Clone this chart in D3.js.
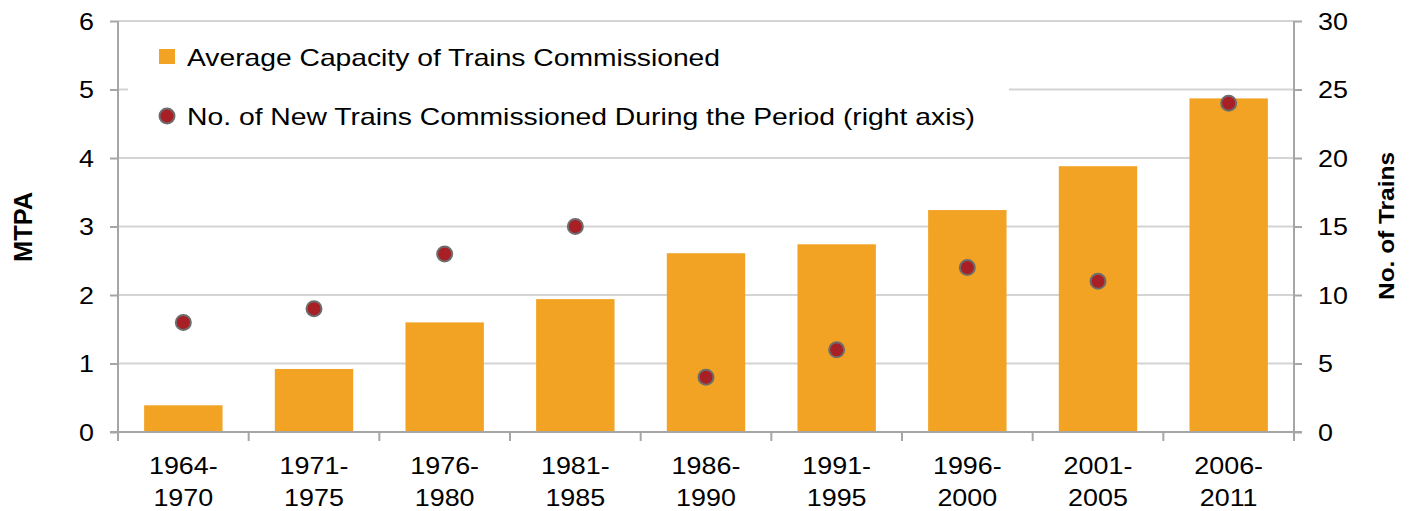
<!DOCTYPE html>
<html>
<head>
<meta charset="utf-8">
<script src="https://cdn.jsdelivr.net/npm/d3@7"></script>
<style>
  html, body { margin: 0; padding: 0; background: #fff; }
  svg { display: block; font-family: "Liberation Sans", Arial, sans-serif; }
</style>
</head>
<body>
<svg id="chart" width="1410" height="511"></svg>
<script>
const periods = [["1964-","1970"],["1971-","1975"],["1976-","1980"],["1981-","1985"],["1986-","1990"],["1991-","1995"],["1996-","2000"],["2001-","2005"],["2006-","2011"]];
const avgCapacity = [0.39, 0.92, 1.60, 1.94, 2.61, 2.74, 3.24, 3.88, 4.87];
const newTrains = [8, 9, 13, 15, 4, 6, 12, 11, 24];
const leftTicks = [0, 1, 2, 3, 4, 5, 6];
const rightTicks = [0, 5, 10, 15, 20, 25, 30];
const legendLabels = ["Average Capacity of Trains Commissioned", "No. of New Trains  Commissioned During the Period (right axis)"];

(function () {
const svg = d3.select("#chart");
const pLeft = 118, pRight = 1294, pTop = 21, pBottom = 432;
const keys = periods.map(p => p.join(""));
const x = d3.scaleBand().domain(keys).range([pLeft, pRight]).paddingInner(0.4).paddingOuter(0.2);
const xb = d3.scaleBand().domain(keys).range([pLeft, pRight]);
const yL = d3.scaleLinear().domain([0, 6]).range([pBottom, pTop]);
const yR = d3.scaleLinear().domain([0, 30]).range([pBottom, pTop]);

const axisCol = "#a6a6a6", gridCol = "#d4d4d4", barCol = "#F2A324", dotCol = "#A81F25";

function stretch(sel, f) {
  sel.each(function () {
    const w = this.getComputedTextLength();
    d3.select(this).attr("textLength", w * f).attr("lengthAdjust", "spacingAndGlyphs");
  });
}

// gridlines
svg.append("g").selectAll("line").data(leftTicks.filter(d => d > 0)).join("line")
  .attr("x1", pLeft).attr("x2", pRight)
  .attr("y1", d => yL(d)).attr("y2", d => yL(d))
  .attr("stroke", gridCol).attr("stroke-width", 2);

// legend background hiding gridline
svg.append("rect").attr("x", 128).attr("y", 30).attr("width", 881).attr("height", 115).attr("fill", "#fff");

// bars
svg.append("g").selectAll("rect").data(avgCapacity).join("rect")
  .attr("x", (d, i) => x(keys[i])).attr("width", x.bandwidth())
  .attr("y", d => yL(d)).attr("height", d => yL(0) - yL(d))
  .attr("fill", barCol);

// axes
const axL = d3.axisLeft(yL).tickValues(leftTicks).tickFormat(d3.format("d")).tickSize(8).tickPadding(16);
const gL = svg.append("g").attr("transform", `translate(${pLeft},0)`).call(axL);
const axR = d3.axisRight(yR).tickValues(rightTicks).tickFormat(d3.format("d")).tickSize(8).tickPadding(16);
const gR = svg.append("g").attr("transform", `translate(${pRight},0)`).call(axR);
[gL, gR].forEach(g => {
  g.attr("font-size", null).attr("font-family", null);
  g.select(".domain").attr("stroke", axisCol).attr("stroke-width", 2).attr("d", `M0,${pTop}V${pBottom}`);
  g.selectAll(".tick line").attr("stroke", axisCol).attr("stroke-width", 2);
  g.selectAll(".tick text").style("font-size", "24px").attr("fill", "#000").attr("dy", "0.34em");
  stretch(g.selectAll(".tick text"), 1.12);
});

// bottom axis
const gB = svg.append("g");
gB.append("line").attr("x1", pLeft - 8).attr("x2", pRight + 8).attr("y1", pBottom).attr("y2", pBottom)
  .attr("stroke", axisCol).attr("stroke-width", 2);
const bounds = keys.map(k => xb(k)).concat([pRight]);
gB.selectAll(".bt").data(bounds).join("line").attr("class", "bt")
  .attr("x1", d => d).attr("x2", d => d).attr("y1", pBottom).attr("y2", pBottom + 9)
  .attr("stroke", axisCol).attr("stroke-width", 2);
const lab = gB.selectAll(".lab").data(periods).join("g").attr("class", "lab");
lab.append("text").attr("x", (d, i) => x(keys[i]) + x.bandwidth() / 2).attr("y", 474)
  .attr("text-anchor", "middle").style("font-size", "24px").text(d => d[0]);
lab.append("text").attr("x", (d, i) => x(keys[i]) + x.bandwidth() / 2).attr("y", 506)
  .attr("text-anchor", "middle").style("font-size", "24px").text(d => d[1]);
stretch(lab.selectAll("text"), 1.12);

// points
svg.append("g").selectAll("circle").data(newTrains).join("circle")
  .attr("cx", (d, i) => x(keys[i]) + x.bandwidth() / 2).attr("cy", d => yR(d)).attr("r", 7.5)
  .attr("fill", dotCol).attr("stroke", "#6d6d6d").attr("stroke-width", 2);

// axis titles
svg.append("text").attr("transform", "translate(32,227) rotate(-90)").attr("text-anchor", "middle")
  .style("font-size", "25px").attr("font-weight", "bold").attr("textLength", 70).attr("lengthAdjust", "spacingAndGlyphs").text("MTPA");
svg.append("text").attr("transform", "translate(1394,226) rotate(-90)").attr("text-anchor", "middle")
  .style("font-size", "22px").attr("font-weight", "bold").attr("textLength", 148).attr("lengthAdjust", "spacingAndGlyphs").text("No. of Trains");

// legend
svg.append("rect").attr("x", 159).attr("y", 49).attr("width", 16).attr("height", 15).attr("fill", barCol);
svg.append("text").attr("x", 187).attr("y", 66).style("font-size", "24px").attr("textLength", 533).attr("lengthAdjust", "spacingAndGlyphs").text(legendLabels[0]);
svg.append("circle").attr("cx", 167).attr("cy", 116).attr("r", 7.5).attr("fill", dotCol).attr("stroke", "#6d6d6d").attr("stroke-width", 2);
svg.append("text").attr("x", 187).attr("y", 125).style("font-size", "24px").attr("textLength", 788).attr("lengthAdjust", "spacingAndGlyphs").text(legendLabels[1]);
})();
</script>
</body>
</html>
